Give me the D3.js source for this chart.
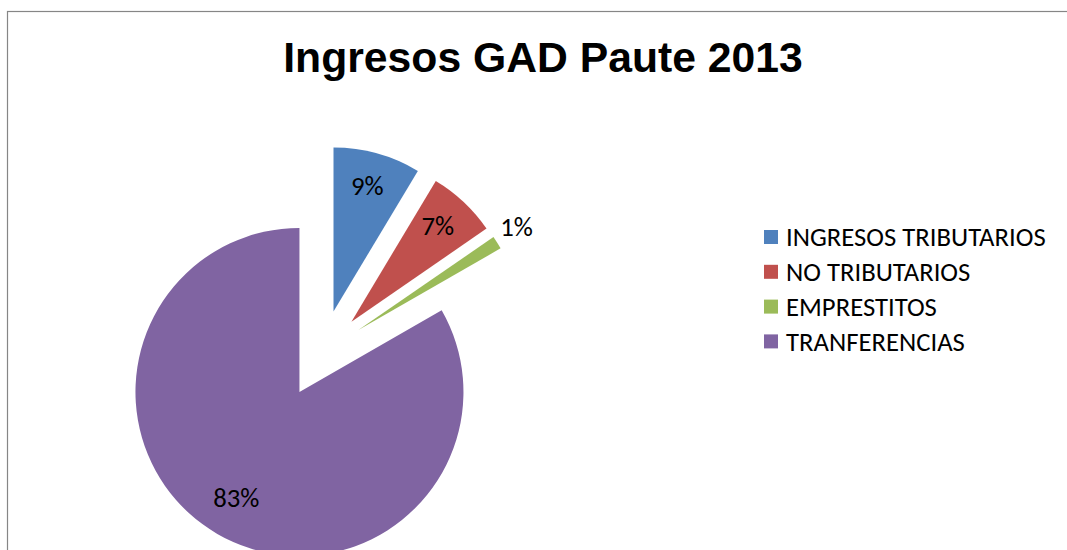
<!DOCTYPE html>
<meta charset="utf-8">
<style>
body { margin: 0; background: #fff; }
.title { font: bold 42.7px "Liberation Sans", Arial, sans-serif; }
.lbl, .legend text { font-family: Calibri, Carlito, "Liberation Sans", Arial, sans-serif; font-size: 26.7px; fill: #000; }
</style>
<svg width="1067" height="550"></svg>
<script src="https://d3js.org/d3.v7.min.js"></script>
<script>

var categories = ["INGRESOS TRIBUTARIOS", "NO TRIBUTARIOS", "EMPRESTITOS", "TRANFERENCIAS"],
    values = [8.6, 6.8, 1.3, 83.3],
    labels = ["9%", "7%", "1%", "83%"],
    colors = ["#4f81bd", "#c0504d", "#9bbb59", "#8064a2"];

var svg = d3.select("svg");

// chart frame (right and bottom edges fall outside the picture)
svg.append("rect")
    .attr("x", 7.5).attr("y", 11.5)
    .attr("width", 1070).attr("height", 560)
    .attr("fill", "none")
    .attr("stroke", "#868686")
    .attr("stroke-width", 1.2);

svg.append("text")
    .attr("class", "title")
    .attr("x", 543).attr("y", 72)
    .attr("text-anchor", "middle")
    .text("Ingresos GAD Paute 2013");

var cx = 322, cy = 353, r = 164, explode = 43;

var pie = d3.pie().sort(null).value(function(d) { return d; });
var arc = d3.arc().innerRadius(0).outerRadius(r);
var arcs = pie(values);

function offset(d, dist) {
  var a = (d.startAngle + d.endAngle) / 2;
  return [Math.sin(a) * dist, -Math.cos(a) * dist];
}

var g = svg.append("g").attr("transform", "translate(" + cx + "," + cy + ")");

var slice = g.selectAll("g.slice")
    .data(arcs)
  .enter().append("g")
    .attr("class", "slice")
    .attr("transform", function(d) {
      var o = offset(d, d.index == 3 ? 45 : explode);
      return "translate(" + o[0] + "," + o[1] + ")";
    });

slice.append("path")
    .attr("d", arc)
    .attr("fill", function(d, i) { return colors[i]; });

slice.append("text")
    .attr("class", "lbl")
    .attr("text-anchor", "middle")
    .attr("dy", "0.2em")
    .attr("transform", function(d) {
      var o = offset(d, d.index == 2 ? r * 1.14 : r * 0.77);
      return "translate(" + o[0] + "," + o[1] + ")";
    })
    .text(function(d, i) { return labels[i]; });

var legend = svg.append("g").attr("class", "legend")
    .attr("transform", "translate(764,237)");

var item = legend.selectAll("g")
    .data(categories)
  .enter().append("g")
    .attr("transform", function(d, i) { return "translate(0," + (i * 34.8) + ")"; });

item.append("rect")
    .attr("x", 0).attr("y", -7)
    .attr("width", 14).attr("height", 14)
    .attr("fill", function(d, i) { return colors[i]; });

item.append("text")
    .attr("x", 22)
    .attr("dy", "0.35em")
    .text(function(d) { return d; });

</script>
